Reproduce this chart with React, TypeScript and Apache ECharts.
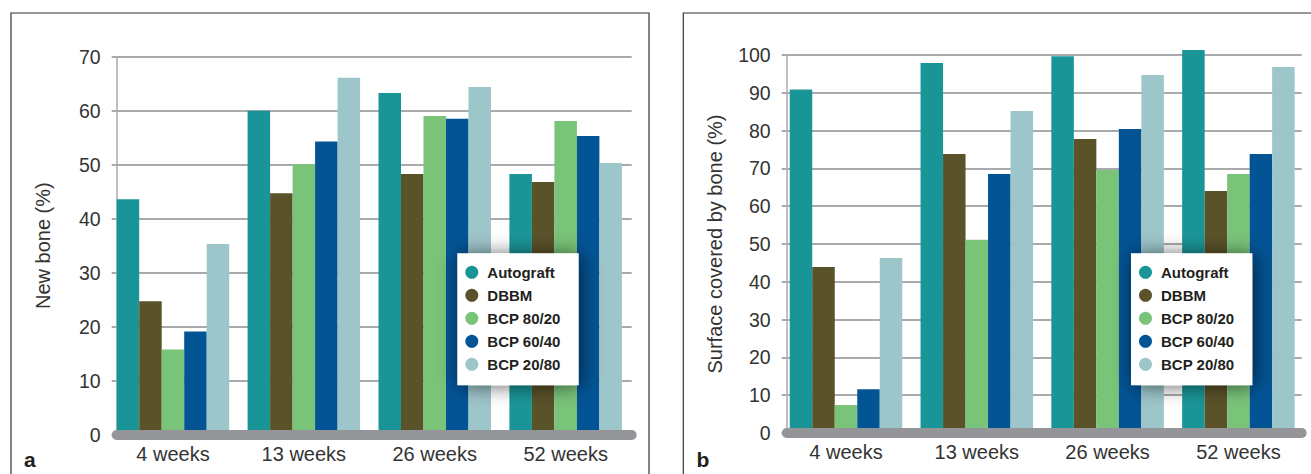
import React, { useEffect, useRef } from "react";
import * as echarts from "echarts";

const categories = ["4 weeks", "13 weeks", "26 weeks", "52 weeks"];
const seriesNames = ["Autograft", "DBBM", "BCP 80/20", "BCP 60/40", "BCP 20/80"];
const seriesColors = ["#1a9597", "#5a5229", "#79c479", "#035495", "#9dc6ca"];

// Panel a: New bone (%)
const newBoneAutograft = [43.6, 60.0, 63.3, 48.3];
const newBoneDBBM = [24.7, 44.7, 48.3, 46.8];
const newBoneBCP8020 = [15.8, 50.1, 59.0, 58.1];
const newBoneBCP6040 = [19.1, 54.3, 58.5, 55.3];
const newBoneBCP2080 = [35.3, 66.1, 64.4, 50.3];

// Panel b: Surface covered by bone (%)
const surfaceAutograft = [90.9, 97.9, 99.7, 101.3];
const surfaceDBBM = [43.9, 73.8, 77.8, 64.0];
const surfaceBCP8020 = [7.4, 51.1, 69.6, 68.5];
const surfaceBCP6040 = [11.6, 68.5, 80.4, 73.8];
const surfaceBCP2080 = [46.3, 85.2, 94.7, 96.8];

const newBoneSeries = [newBoneAutograft, newBoneDBBM, newBoneBCP8020, newBoneBCP6040, newBoneBCP2080];
const surfaceSeries = [surfaceAutograft, surfaceDBBM, surfaceBCP8020, surfaceBCP6040, surfaceBCP2080];

const FONT = "'Liberation Sans', Arial, Helvetica, sans-serif";
const TEXT = "#333333";
const GRID_GREY = "#a9aaad";
const BAR_GREY = "#939598";

export default function App() {
  const ref = useRef<HTMLDivElement>(null);
  useEffect(() => {
    if (!ref.current) return;
    const chart = echarts.init(ref.current, undefined, { renderer: "svg" });

    const A = { barLeft: 107.5, barWidth: 523.6, axisLeft: 116.7, axisWidth: 515, top: 56.7, height: 378 };
    const B = { barLeft: 780.6, barWidth: 523.2, axisLeft: 786.7, axisWidth: 515, top: 55, height: 378 };

    const grid = [
      { left: A.barLeft, top: A.top, width: A.barWidth, height: A.height },
      { left: A.axisLeft, top: A.top, width: A.axisWidth, height: A.height },
      { left: B.barLeft, top: B.top, width: B.barWidth, height: B.height },
      { left: B.axisLeft, top: B.top, width: B.axisWidth, height: B.height },
    ];

    const labelXAxis = (gi: number) => ({
      type: "category", gridIndex: gi, data: categories,
      axisLine: { show: false }, axisTick: { show: false }, splitLine: { show: false },
      axisLabel: { color: TEXT, fontFamily: FONT, fontSize: 20, margin: 9 },
    });
    const lineXAxis = (gi: number) => ({
      type: "category", gridIndex: gi, data: categories, z: 5,
      axisLine: { show: true, lineStyle: { color: BAR_GREY, width: 10, cap: "round" } },
      axisTick: { show: false }, axisLabel: { show: false }, splitLine: { show: false },
    });
    const hiddenYAxis = (gi: number, max: number) => ({
      type: "value", gridIndex: gi, min: 0, max, interval: 10, show: false,
    });
    const shownYAxis = (gi: number, max: number, name: string, nameGap: number) => ({
      type: "value", gridIndex: gi, min: 0, max, interval: 10,
      name, nameLocation: "middle", nameGap,
      nameTextStyle: { color: TEXT, fontFamily: FONT, fontSize: 20 },
      axisLine: { show: true, lineStyle: { color: GRID_GREY, width: 1.5 } },
      axisTick: { show: true, length: 5, lineStyle: { color: GRID_GREY, width: 2 } },
      splitLine: { show: true, lineStyle: { color: GRID_GREY, width: 2 } },
      axisLabel: { color: TEXT, fontFamily: FONT, fontSize: 19.5, margin: 16 },
    });

    const makeSeries = (data: number[][], xi: number, yi: number) =>
      data.map((vals, i) => ({
        type: "bar", name: seriesNames[i], xAxisIndex: xi, yAxisIndex: yi,
        data: vals, barWidth: 22.5, barGap: "0%", clip: false,
        itemStyle: { color: seriesColors[i] },
      }));

    const legend = (left: number) => ({
      left, top: 253.3, orient: "vertical",
      data: seriesNames.map((n) => ({ name: n, icon: "circle" })),
      itemWidth: 21, itemHeight: 13, itemGap: 7,
      padding: [11, 18, 13, 8],
      backgroundColor: "#ffffff",
      shadowBlur: 20, shadowColor: "rgba(0,0,0,0.6)", shadowOffsetX: 2, shadowOffsetY: 1,
      textStyle: { color: "#231f20", fontFamily: FONT, fontWeight: "bold", fontSize: 15, lineHeight: 16 },
      selectedMode: false,
    });

    chart.setOption({
      animation: false,
      backgroundColor: "#ffffff",
      grid,
      xAxis: [labelXAxis(0), lineXAxis(1), labelXAxis(2), lineXAxis(3)],
      yAxis: [
        hiddenYAxis(0, 70), shownYAxis(1, 70, "New bone (%)", 64),
        hiddenYAxis(2, 100), shownYAxis(3, 100, "Surface covered by bone (%)", 62),
      ],
      legend: [legend(457.3), legend(1131)],
      series: [...makeSeries(newBoneSeries, 0, 0), ...makeSeries(surfaceSeries, 2, 2)],
      graphic: [
        { type: "rect", shape: { x: 11, y: 13, width: 638, height: 500 }, style: { fill: "none", stroke: "#333", lineWidth: 1.2 }, silent: true, z: 10 },
        { type: "rect", shape: { x: 683.3, y: 13, width: 700, height: 500 }, style: { fill: "none", stroke: "#333", lineWidth: 1.2 }, silent: true, z: 10 },
        { type: "text", x: 24, y: 459, style: { text: "a", fill: "#231f20", font: `bold 21px ${FONT}`, textVerticalAlign: "middle" }, z: 10 },
        { type: "text", x: 696.5, y: 459, style: { text: "b", fill: "#231f20", font: `bold 21px ${FONT}`, textVerticalAlign: "middle" }, z: 10 },
      ],
    });
    return () => chart.dispose();
  }, []);
  return <div ref={ref} style={{ position: "absolute", left: 0, top: 0, width: 1311, height: 474 }} />;
}
